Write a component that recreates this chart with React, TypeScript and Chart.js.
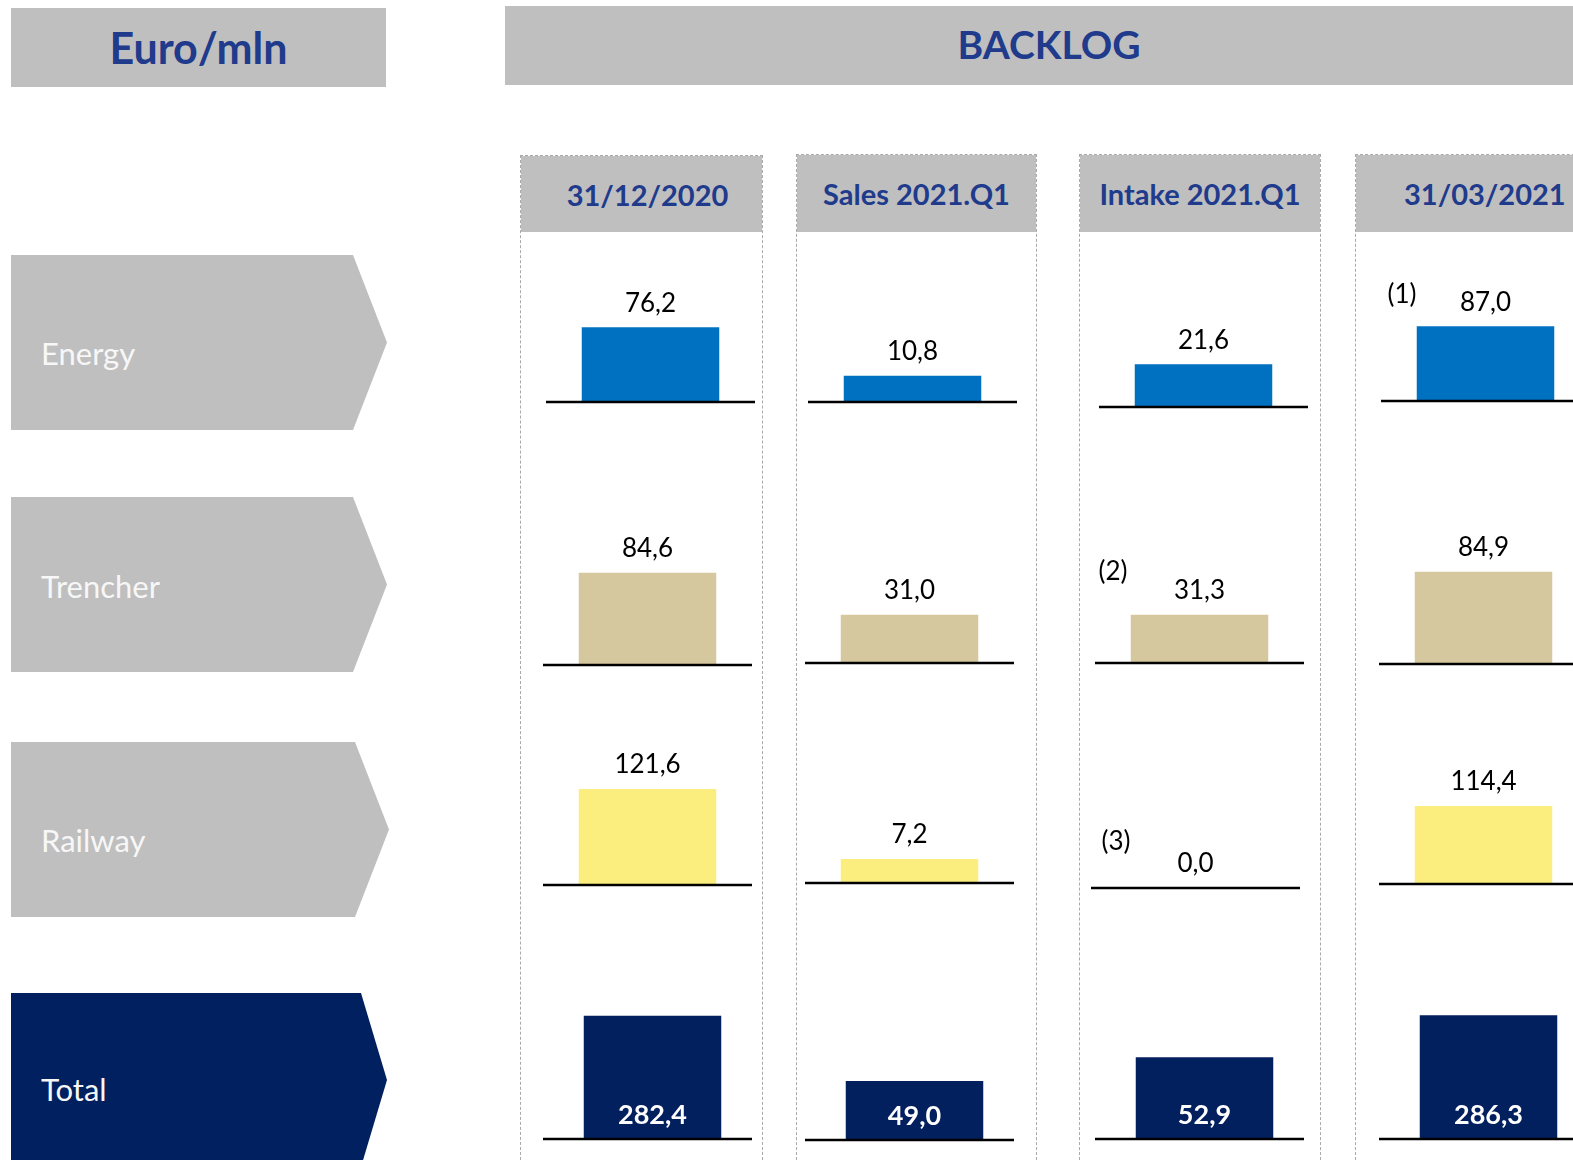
import React, { useEffect, useRef } from "react";
import { Chart, registerables } from "chart.js";

Chart.register(...registerables);

// ---------- data ----------
const columnLabels = ["31/12/2020", "Sales 2021.Q1", "Intake 2021.Q1", "31/03/2021"];
const segmentLabels = ["Energy", "Trencher", "Railway", "Total"];
const energyValues = [76.2, 10.8, 21.6, 87.0];
const trencherValues = [84.6, 31.0, 31.3, 84.9];
const railwayValues = [121.6, 7.2, 0.0, 114.4];
const totalValues = [282.4, 49.0, 52.9, 286.3];
const unitLabel = "Euro/mln";
const titleLabel = "BACKLOG";
const footnoteLabels = ["(1)", "(2)", "(3)"];

// ---------- layout / style ----------
const seriesRows = [energyValues, trencherValues, railwayValues, totalValues];
const rowColors = ["#0070C0", "#D6C89E", "#FCEE7E", "#021F5E"];
// each small chart in the original slide is scaled independently
const axisMax = [
  [142.8, 57.5, 70.8, 163.1],
  [128.3, 89.9, 90.7, 128.8],
  [177.3, 42.0, 100, 205.3],
  [320.6, 116.3, 90.6, 324.0],
];
const cellLeft = [
  [546, 808, 1099, 1381],
  [543, 805, 1095, 1379],
  [543, 805, 1091, 1379],
  [543, 805, 1095, 1379],
];
const cellBase = [
  [402, 402, 407, 401],
  [665, 663, 663, 664],
  [885, 883, 888, 884],
  [1139, 1140, 1139, 1139],
];
// bars of the total row sit slightly right of their base line centre
const rowBarShift = [0, 0, 0, 5];
const CELL_W = 209;
const BAR_W = 137.5;
const CANVAS_H = 190;
const BASE_IN_CANVAS = 185;

const columnFrames = [
  { left: 520, right: 763, top: 155, textShift: 6 },
  { left: 796, right: 1037, top: 154, textShift: 0 },
  { left: 1079, right: 1321, top: 154, textShift: 0 },
  { left: 1355, right: 1600, top: 154, textShift: 0 },
];
const chevrons = [
  { top: 255, bottom: 430, body: 353, point: 387, textY: 353, fill: "#BFBFBF" },
  { top: 497, bottom: 672, body: 353, point: 387, textY: 586, fill: "#BFBFBF" },
  { top: 742, bottom: 917, body: 355, point: 389, textY: 840, fill: "#BFBFBF" },
  { top: 993, bottom: 1167, body: 361, point: 387, textY: 1089, fill: "#00205F" },
];
const footnotePos = [
  { x: 1402, y: 293 },
  { x: 1113, y: 570 },
  { x: 1116, y: 840 },
];

const NAVY_TEXT = "#203A8C";
const FONT = "Lato, 'Open Sans', sans-serif";

const fmt = (v: number) => v.toFixed(1).replace(".", ",");

const valueLabelPlugin = {
  id: "valueLabel",
  afterDatasetsDraw(chart: any, _args: any, opts: any) {
    const { ctx } = chart;
    const y0 = chart.scales.y.getPixelForValue(0);
    ctx.save();
    ctx.strokeStyle = "#000";
    ctx.lineWidth = 2.6;
    ctx.beginPath();
    ctx.moveTo(0, y0);
    ctx.lineTo(chart.width, y0);
    ctx.stroke();
    const meta = chart.getDatasetMeta(0);
    meta.data.forEach((bar: any, i: number) => {
      const v = chart.data.datasets[0].data[i] as number;
      ctx.textAlign = "center";
      ctx.textBaseline = "middle";
      if (opts && opts.inside) {
        ctx.font = "bold 27px Lato";
        ctx.fillStyle = "#FFFFFF";
        ctx.fillText(fmt(v), bar.x, y0 - 24);
      } else {
        ctx.font = "26px Lato";
        ctx.fillStyle = "#000000";
        ctx.fillText(fmt(v), bar.x, bar.y - 24);
      }
    });
    ctx.restore();
  },
};

function Cell(props: { row: number; col: number }) {
  const { row, col } = props;
  const ref = useRef<HTMLCanvasElement | null>(null);
  useEffect(() => {
    if (!ref.current) return;
    const shift = rowBarShift[row];
    const areaW = CELL_W - 2 * shift;
    const chart = new Chart(ref.current, {
      type: "bar",
      data: {
        labels: [columnLabels[col]],
        datasets: [
          {
            label: segmentLabels[row],
            data: [seriesRows[row][col]],
            backgroundColor: rowColors[row],
            borderWidth: 0,
            barPercentage: BAR_W / areaW,
            categoryPercentage: 1,
          },
        ],
      },
      options: {
        animation: false,
        responsive: false,
        maintainAspectRatio: false,
        events: [],
        layout: {
          padding: {
            top: BASE_IN_CANVAS - 140,
            bottom: CANVAS_H - BASE_IN_CANVAS,
            left: 2 * shift,
            right: 0,
          },
        },
        scales: {
          x: { display: false },
          y: { display: false, min: 0, max: axisMax[row][col] },
        },
        plugins: {
          legend: { display: false },
          tooltip: { enabled: false },
          valueLabel: { inside: row === 3 },
        } as any,
      },
      plugins: [valueLabelPlugin as any],
    });
    return () => chart.destroy();
  }, [row, col]);
  return (
    <canvas
      ref={ref}
      width={CELL_W}
      height={CANVAS_H}
      style={{
        position: "absolute",
        left: cellLeft[row][col],
        top: cellBase[row][col] - BASE_IN_CANVAS,
        width: CELL_W,
        height: CANVAS_H,
      }}
    />
  );
}

export default function App() {
  useEffect(() => {
    document.body.style.margin = "0";
    document.body.style.overflow = "hidden";
  }, []);

  return (
    <div
      style={{
        position: "absolute",
        left: 0,
        top: 0,
        width: 1573,
        height: 1160,
        overflow: "hidden",
        background: "#FFFFFF",
        fontFamily: FONT,
      }}
    >
      {/* unit box */}
      <div
        style={{
          position: "absolute",
          left: 11,
          top: 8,
          width: 375,
          height: 79,
          background: "#BFBFBF",
          display: "flex",
          alignItems: "center",
          justifyContent: "center",
          color: NAVY_TEXT,
          fontWeight: 700,
          fontSize: 43,
        }}
      >
        {unitLabel}
      </div>
      {/* title box */}
      <div
        style={{
          position: "absolute",
          left: 505,
          top: 6,
          width: 1085,
          height: 79,
          background: "#BFBFBF",
        }}
      >
        <div
          style={{
            position: "absolute",
            left: 1049 - 505 - 200,
            width: 400,
            top: -2,
            height: 79,
            display: "flex",
            alignItems: "center",
            justifyContent: "center",
            color: NAVY_TEXT,
            fontWeight: 700,
            fontSize: 39,
          }}
        >
          {titleLabel}
        </div>
      </div>

      {/* column frames */}
      {columnFrames.map((f, i) => (
        <div
          key={"col" + i}
          style={{
            position: "absolute",
            left: f.left,
            top: f.top,
            width: f.right - f.left,
            height: 1160 - f.top + 20,
            border: "1px dashed #A9A9A9",
            boxSizing: "border-box",
          }}
        >
          <div
            style={{
              position: "absolute",
              left: 0,
              top: 0,
              right: 0,
              height: 231 - f.top,
              background: "#BFBFBF",
              display: "flex",
              alignItems: "center",
              justifyContent: i === 3 ? "flex-start" : "center",
              paddingLeft: i === 3 ? 48 : 2 * f.textShift,
              boxSizing: "border-box",
              color: NAVY_TEXT,
              fontWeight: 700,
              fontSize: 29,
              whiteSpace: "nowrap",
            }}
          >
            {columnLabels[i]}
          </div>
        </div>
      ))}

      {/* row chevrons */}
      {chevrons.map((c, i) => {
        const w = c.point - 11;
        const h = c.bottom - c.top;
        const bw = c.body - 11;
        return (
          <React.Fragment key={"chev" + i}>
            <div
              style={{
                position: "absolute",
                left: 11,
                top: c.top,
                width: w,
                height: h,
                background: c.fill,
                clipPath: `polygon(0px 0px, ${bw}px 0px, ${w}px ${h / 2}px, ${bw}px ${h}px, 0px ${h}px)`,
              }}
            />
            <div
              style={{
                position: "absolute",
                left: 41,
                top: c.textY - 20,
                height: 40,
                lineHeight: "40px",
                color: "#F7F7F7",
                fontSize: 31,
                whiteSpace: "nowrap",
              }}
            >
              {segmentLabels[i]}
            </div>
          </React.Fragment>
        );
      })}

      {/* charts */}
      {seriesRows.map((_, r) =>
        columnLabels.map((__, c) => <Cell key={`c${r}-${c}`} row={r} col={c} />)
      )}

      {/* footnotes */}
      {footnoteLabels.map((t, i) => (
        <div
          key={"fn" + i}
          style={{
            position: "absolute",
            left: footnotePos[i].x - 30,
            width: 60,
            top: footnotePos[i].y - 16,
            height: 32,
            lineHeight: "32px",
            textAlign: "center",
            fontSize: 26,
            color: "#000",
          }}
        >
          {t}
        </div>
      ))}
    </div>
  );
}
